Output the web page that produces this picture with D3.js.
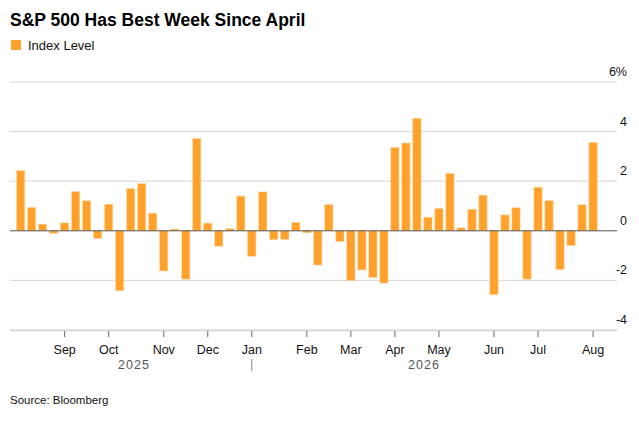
<!DOCTYPE html>
<html><head><meta charset="utf-8">
<script src="https://cdn.jsdelivr.net/npm/d3@7"></script>
<style>body{margin:0;background:#fff;font-family:"Helvetica Neue",Arial,"Liberation Sans",sans-serif;}</style>
</head><body><svg id="main" width="639" height="426"></svg>
<script>
// weekly % change, one value per week
var values = [2.43,0.94,0.27,-0.1,0.32,1.58,1.21,-0.31,1.07,-2.42,1.7,1.91,0.71,-1.62,0.07,-1.95,3.72,0.31,-0.62,0.09,
  1.4,-1.03,1.57,-0.36,-0.35,0.34,-0.08,-1.38,1.06,-0.44,-2.01,-1.58,-1.89,-2.11,3.36,3.54,4.54,0.55,0.9,2.32,
  0.12,0.87,1.44,-2.58,0.64,0.93,-1.95,1.76,1.22,-1.56,-0.6,1.05,3.57];
var monthLabels = ["Sep","Oct","Nov","Dec","Jan","Feb","Mar","Apr","May","Jun","Jul","Aug"];
var monthIndex = [4,8,13,17,21,26,30,34,38,43,47,52];
var yearLabels = ["2025","2026"];
var yTicks = [-4,-2,0,2,4,6];

var svg = d3.select('#main');
var x = d3.scaleBand().domain(d3.range(values.length)).range([15.2, 598.5]).paddingInner(0.25).paddingOuter(0.12);
var y = d3.scaleLinear().domain([-4, 6]).range([330, 82]);
var gridL = 10, gridR = 617;

svg.append('text').attr('x', 10).attr('y', 26).attr('font-size', 17.5).attr('font-weight', 'bold')
  .attr('fill', '#000').text('S&P 500 Has Best Week Since April');
svg.append('rect').attr('x', 11).attr('y', 40).attr('width', 10).attr('height', 10).attr('fill', '#ffa12b');
svg.append('text').attr('x', 28).attr('y', 49.5).attr('font-size', 13).attr('fill', '#111').text('Index Level');

yTicks.forEach(function(t) {
  if (t !== 0) svg.append('line').attr('x1', gridL).attr('x2', gridR).attr('y1', y(t)).attr('y2', y(t))
    .attr('stroke', '#d6d6d6').attr('stroke-width', 1);
  svg.append('text').attr('x', 627).attr('y', y(t) - 6).attr('text-anchor', 'end').attr('font-size', 12.5)
    .attr('fill', '#111').text(t === 6 ? '6%' : t);
});
svg.append('line').attr('x1', gridL).attr('x2', gridR).attr('y1', y(-4) + 0.5).attr('y2', y(-4) + 0.5)
  .attr('stroke', '#d6d6d6').attr('stroke-width', 1.5);

svg.selectAll('rect.bar').data(values).enter().append('rect').attr('class', 'bar')
  .attr('x', function(d, i) { return x(i); })
  .attr('width', x.bandwidth())
  .attr('y', function(d) { return y(Math.max(0, d)); })
  .attr('height', function(d) { return Math.abs(y(d) - y(0)); })
  .attr('fill', '#ffa12b').attr('stroke', '#ffd9a6').attr('stroke-width', 0.6);

svg.append('line').attr('x1', gridL).attr('x2', gridR).attr('y1', y(0)).attr('y2', y(0))
  .attr('stroke', '#555').attr('stroke-width', 1);

monthIndex.forEach(function(idx, k) {
  var cx = x(idx) + x.bandwidth() / 2;
  svg.append('line').attr('x1', cx).attr('x2', cx).attr('y1', 331).attr('y2', 337).attr('stroke', '#666');
  svg.append('text').attr('x', cx).attr('y', 354).attr('text-anchor', 'middle').attr('font-size', 12.5)
    .attr('fill', '#111').text(monthLabels[k]);
});
var sepX = x(21) + x.bandwidth() / 2;
svg.append('line').attr('x1', sepX).attr('x2', sepX).attr('y1', 359).attr('y2', 371).attr('stroke', '#888');
svg.append('text').attr('x', 134).attr('y', 369).attr('text-anchor', 'middle').attr('font-size', 12.5)
  .attr('fill', '#555').attr('letter-spacing', 1).text(yearLabels[0]);
svg.append('text').attr('x', 424).attr('y', 369).attr('text-anchor', 'middle').attr('font-size', 12.5)
  .attr('fill', '#555').attr('letter-spacing', 1).text(yearLabels[1]);

svg.append('text').attr('x', 10).attr('y', 404).attr('font-size', 11.5).attr('fill', '#111').text('Source: Bloomberg');
</script></body></html>
